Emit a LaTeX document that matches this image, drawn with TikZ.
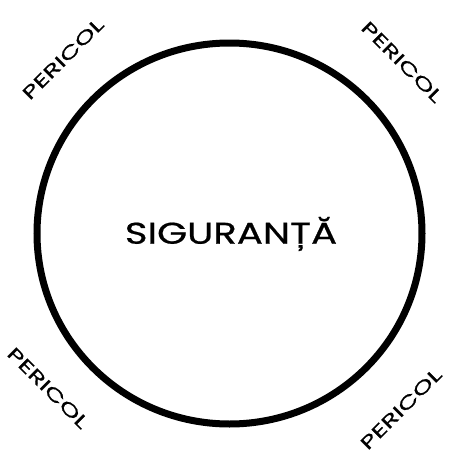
\documentclass[tikz,border=0pt]{standalone}
\usepackage{fontspec}
\setmainfont{Poppins}
\newfontfamily\drawfont{Poppins}[FakeBold=0.6]
\begin{document}
\begin{tikzpicture}[x=1pt,y=-1pt,
  lbl/.style={font=\drawfont\fontsize{18}{18}\selectfont, inner sep=0pt, transform shape, xscale=1.5},
  main/.style={font=\drawfont\fontsize{30}{30}\selectfont, inner sep=0pt, transform shape, xscale=1.29}]
\useasboundingbox (0,0) rectangle (449,453);
\draw[line width=7pt] (229.5,233.5) ellipse [x radius=192.5, y radius=190.5];
\node[main] (s) at (231,234) {SIGURANȚĂ};
\node[rotate=45, lbl] (p1) at (63,59) {PERICOL};
\node[rotate=-45, lbl] (p2) at (402,62) {PERICOL};
\node[rotate=-45, lbl] (p3) at (48,388) {PERICOL};
\node[rotate=45, lbl] (p4) at (401,409) {PERICOL};
\end{tikzpicture}
\end{document}
